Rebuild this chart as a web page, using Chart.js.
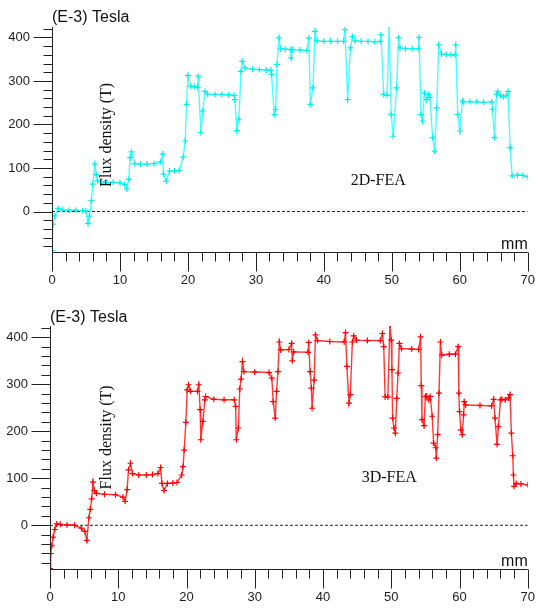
<!DOCTYPE html>
<html>
<head>
<meta charset="utf-8">
<title>Flux density - 2D-FEA / 3D-FEA</title>
<script src="https://cdn.jsdelivr.net/npm/chart.js@4.4.1/dist/chart.umd.min.js"></script>
<style>
  html, body { margin: 0; padding: 0; background: #fff; }
  canvas { display: block; }
</style>
</head>
<body>
<canvas id="fea2d" width="537" height="300"></canvas>
<canvas id="fea3d" width="537" height="309"></canvas>
<script>
// position along the path (mm) and flux density (E-3 Tesla)
const pos2D = [0.0, 0.15, 0.4, 0.9, 1.5, 2.5, 3.5, 4.5, 5.0, 5.3, 5.5, 5.8, 6.0, 6.3, 6.5, 6.7, 7.3, 8.0, 9.0, 10.0,
  10.7, 11.0, 11.3, 11.5, 11.7, 12.2, 13.0, 14.0, 15.0, 16.0, 16.3, 16.4, 16.8, 17.3, 18.0, 18.7, 19.3, 19.6, 19.8, 20.0,
  20.4, 21.0, 21.4, 21.5, 21.9, 22.2, 22.5, 22.9, 24.0, 25.0, 26.0, 26.8, 26.9, 27.2, 27.5, 27.8, 28.0, 28.4, 29.5, 30.5,
  31.5, 32.2, 32.3, 32.7, 32.9, 33.1, 33.4, 33.6, 34.3, 35.1, 35.2, 35.4, 36.5, 37.5, 37.8, 38.0, 38.4, 38.7, 39.0, 40.0,
  41.0, 42.0, 42.9, 43.1, 43.5, 43.9, 44.2, 44.6, 45.5, 46.5, 47.5, 48.3, 48.4, 48.8, 49.3, 49.6, 49.9, 50.2, 50.7, 51.0,
  51.2, 52.0, 53.0, 53.9, 54.0, 54.3, 54.5, 54.8, 55.1, 55.4, 55.6, 56.0, 56.3, 56.6, 56.9, 57.3, 58.0, 58.7, 59.3, 59.4,
  59.7, 60.0, 60.4, 60.5, 61.5, 62.5, 63.5, 64.7, 64.8, 65.1, 65.4, 65.6, 66.0, 66.4, 66.8, 67.1, 67.4, 67.7, 68.5, 69.3, 70.0];
const flux2D = [-90, -29, -10, 7, 4, 3, 3, 2, 1, -27, -12, 25, 63, 109, 85, 71, 68, 67, 67, 66,
  62, 52, 74, 124, 137, 110, 109, 109, 110, 114, 132, 86, 70, 93, 93, 94, 125, 162, 246, 313,
  288, 287, 285, 311, 181, 231, 276, 270, 269, 269, 268, 267, 257, 186, 212, 322, 345, 330, 327, 326,
  325, 325, 315, 223, 235, 338, 399, 374, 373, 372, 353, 372, 371, 370, 399, 246, 284, 414, 392, 391,
  391, 391, 391, 418, 257, 376, 402, 392, 391, 391, 390, 391, 406, 269, 267, 429, 223, 173, 284, 399,
  376, 374, 374, 374, 400, 223, 208, 272, 257, 269, 262, 170, 139, 238, 383, 362, 361, 360, 360, 383,
  223, 185, 254, 252, 252, 252, 251, 252, 235, 170, 269, 276, 266, 264, 266, 276, 147, 82, 84, 83, 80];

const pos3D = [0.0, 0.1, 0.25, 0.45, 0.7, 1.0, 1.5, 2.5, 3.6, 4.6, 5.1, 5.4, 5.7, 5.9, 6.1, 6.3, 6.5, 6.8, 8.0, 9.6,
  10.7, 11.0, 11.3, 11.5, 11.8, 12.1, 13.0, 14.1, 15.0, 15.8, 16.2, 16.4, 16.7, 17.2, 18.0, 18.6, 19.3, 19.5, 19.66, 19.9,
  20.1, 20.3, 20.6, 21.6, 21.8, 22.0, 22.1, 22.4, 22.7, 22.8, 24.0, 25.5, 27.0, 27.2, 27.3, 27.6, 27.8, 28.0, 28.2, 28.4,
  30.0, 32.1, 32.5, 32.7, 33.0, 33.2, 33.4, 33.6, 33.8, 35.0, 35.4, 35.5, 35.7, 37.8, 37.9, 38.1, 38.3, 38.4, 38.7, 38.9,
  39.2, 41.0, 43.1, 43.3, 43.5, 43.8, 44.0, 44.3, 44.5, 44.9, 46.5, 48.4, 48.7, 48.9, 49.1, 49.5, 49.8, 50.0, 50.1, 50.2,
  50.4, 50.6, 50.8, 51.0, 51.2, 51.5, 53.0, 54.0, 54.3, 54.4, 54.5, 54.8, 55.0, 55.2, 55.5, 55.7, 56.0, 56.2, 56.5, 56.6,
  56.8, 57.0, 57.2, 57.4, 58.5, 59.4, 59.8, 59.9, 60.0, 60.2, 60.4, 60.6, 60.7, 60.9, 63.0, 64.7, 65.0, 65.2, 65.5, 65.7,
  66.0, 66.2, 66.7, 67.2, 67.4, 67.6, 67.8, 67.9, 68.0, 68.3, 69.0, 70.0];
const flux3D = [-92, -60, -44, -25, -9, 3, 2, 1, 0, -6, -13, -32, 16, 34, 56, 92, 74, 68, 66, 65,
  60, 51, 76, 118, 132, 110, 107, 107, 108, 110, 123, 89, 74, 89, 90, 91, 107, 125, 160, 219,
  288, 299, 285, 285, 299, 246, 182, 221, 267, 274, 268, 267, 267, 253, 182, 207, 290, 311, 348, 327,
  326, 325, 313, 263, 228, 285, 327, 390, 373, 374, 387, 350, 369, 368, 389, 327, 292, 249, 309, 405,
  393, 391, 390, 410, 338, 260, 278, 390, 403, 394, 393, 393, 408, 380, 273, 273, 426, 394, 331, 228,
  207, 196, 270, 324, 387, 376, 375, 374, 401, 297, 225, 212, 274, 275, 267, 274, 232, 175, 165, 143,
  193, 281, 390, 362, 364, 364, 380, 281, 242, 203, 193, 235, 263, 256, 255, 254, 268, 228, 172, 210,
  267, 268, 267, 271, 278, 196, 148, 107, 83, 89, 88, 86];

const xTickLabels = [0, 10, 20, 30, 40, 50, 60, 70];
const yTickLabels = [0, 100, 200, 300, 400];
const zeroSpan = [0, 70];

// axis lines, major + minor tick marks, and the loose texts
const axisMarks = {
  id: 'axisMarks',
  afterDraw(chart, args, o) {
    const { ctx, chartArea: a, scales: { x, y } } = chart;
    const L = Math.round(a.left) + 0.5, B = Math.round(a.bottom) + 0.5;
    ctx.save();
    ctx.strokeStyle = '#222';
    ctx.lineWidth = 1;
    ctx.beginPath();
    ctx.moveTo(L, a.top);
    ctx.lineTo(L, B);
    ctx.lineTo(a.right, B);
    for (let v = 0; v <= 70; v += 2) {
      const px = Math.round(x.getPixelForValue(v)) + 0.5;
      ctx.moveTo(px, B);
      ctx.lineTo(px, B + (v % 10 === 0 ? 19 : 9));
    }
    for (let v = -80; v <= 420; v += 20) {
      const py = Math.round(y.getPixelForValue(v)) + 0.5;
      ctx.moveTo(L, py);
      ctx.lineTo(L - (v % 100 === 0 ? 19 : 9), py);
    }
    ctx.stroke();

    ctx.fillStyle = '#111';
    ctx.font = '16px "Liberation Sans", Arial, sans-serif';
    ctx.textBaseline = 'alphabetic';
    ctx.textAlign = 'left';
    ctx.fillText('(E-3) Tesla', a.left, o.unitY);
    ctx.textAlign = 'right';
    ctx.fillText('mm', a.right, B - 4);

    ctx.font = '16px "Liberation Serif", "Times New Roman", serif';
    ctx.textAlign = 'center';
    ctx.textBaseline = 'middle';
    ctx.fillText(o.tag, x.getPixelForValue(o.tagAt[0]), y.getPixelForValue(o.tagAt[1]));
    ctx.translate(x.getPixelForValue(o.titleAt[0]), y.getPixelForValue(o.titleAt[1]));
    ctx.rotate(-Math.PI / 2);
    ctx.fillText('Flux density (T)', 0, 0);
    ctx.restore();
  }
};

function fluxChart(id, pos, flux, color, lineColor, o) {
  return new Chart(document.getElementById(id), {
    type: 'line',
    data: {
      datasets: [{
        data: pos.map((v, i) => ({ x: v, y: flux[i] })),
        borderColor: lineColor,
        borderWidth: 1.4,
        pointStyle: 'cross',
        pointRadius: 3,
        pointBorderColor: color,
        pointBorderWidth: 1.2,
        pointHoverRadius: 0,
        tension: 0,
        fill: false
      }, {
        data: zeroSpan.map(v => ({ x: v, y: 0 })),
        borderColor: '#222',
        borderWidth: 1,
        borderDash: [3, 2],
        pointRadius: 0,
        fill: false
      }]
    },
    options: {
      responsive: false,
      animation: false,
      events: [],
      layout: { padding: { top: o.top, right: 7, left: 0, bottom: 0 } },
      plugins: {
        legend: { display: false },
        tooltip: { enabled: false },
        axisMarks: o
      },
      scales: {
        x: {
          type: 'linear', min: 0, max: 70,
          afterFit: s => { s.height = o.xh; },
          afterBuildTicks: s => { s.ticks = xTickLabels.map(v => ({ value: v })); },
          grid: { color: 'transparent', drawOnChartArea: false, tickLength: 19 },
          border: { display: false },
          ticks: { color: '#222', font: { family: '"Liberation Sans", Arial', size: 13 }, padding: 2, maxRotation: 0, autoSkip: false }
        },
        y: {
          type: 'linear', min: -93, max: 424,
          afterFit: s => { s.width = o.left; },
          afterBuildTicks: s => { s.ticks = yTickLabels.map(v => ({ value: v })); },
          grid: { color: 'transparent', drawOnChartArea: false, tickLength: 19 },
          border: { display: false },
          ticks: { color: '#222', font: { family: '"Liberation Sans", Arial', size: 13 }, padding: 3 }
        }
      }
    },
    plugins: [axisMarks]
  });
}

fluxChart('fea2d', pos2D, flux2D, '#00f0f0', 'rgba(40,255,255,0.85)',
  { top: 27, xh: 48, left: 52, unitY: 22, tag: '2D-FEA', tagAt: [48, 70], titleAt: [8, 176] });
fluxChart('fea3d', pos3D, flux3D, '#ff0000', 'rgba(255,20,20,0.85)',
  { top: 26, xh: 40, left: 50, unitY: 22, tag: '3D-FEA', tagAt: [49.7, 100], titleAt: [8.3, 187] });
</script>
</body>
</html>
